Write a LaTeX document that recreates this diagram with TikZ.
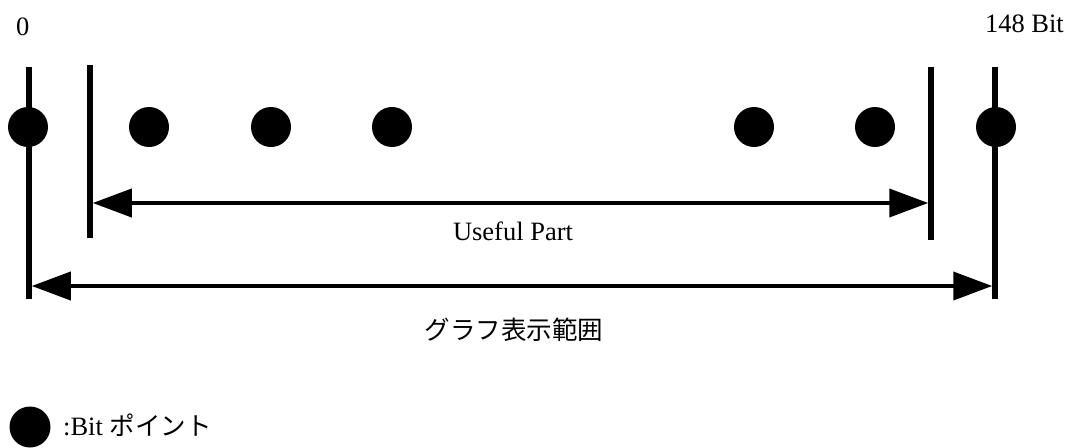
\documentclass[tikz,border=0pt]{standalone}
\usepackage{fontspec}
\setmainfont{Liberation Serif}
\newfontfamily\jpfont{Noto Sans CJK JP}
\usetikzlibrary{arrows.meta}
\tikzset{
  bar/.style={line width=5.5pt},
  dimarrow/.style={line width=4pt,{Triangle[length=39pt,width=28pt]}-{Triangle[length=39pt,width=28pt]}},
  bitdot/.style={circle,fill=black,inner sep=0pt,minimum size=40pt},
  lbl/.style={inner sep=0pt,font=\fontsize{26.5}{30}\selectfont},
  jlbl/.style={inner sep=0pt,font=\fontsize{25.5}{30}\selectfont\jpfont}
}
\begin{document}
\begin{tikzpicture}[x=1pt,y=-1pt]
\useasboundingbox (0,0) rectangle (1070,447);
% vertical bars
\coordinate (oLt) at (29,67);  \coordinate (oLb) at (29,299);
\coordinate (iLt) at (90,65);  \coordinate (iLb) at (90,238);
\coordinate (iRt) at (931,67); \coordinate (iRb) at (931,240);
\coordinate (oRt) at (995,67); \coordinate (oRb) at (995,299);
\draw[bar] (oLt) -- (oLb);
\draw[bar] (iLt) -- (iLb);
\draw[bar] (iRt) -- (iRb);
\draw[bar] (oRt) -- (oRb);
% dots
\node[bitdot] (d1) at (28,127) {};
\node[bitdot] (d2) at (149,127) {};
\node[bitdot] (d3) at (271,127) {};
\node[bitdot] (d4) at (392,127) {};
\node[bitdot] (d5) at (754,127) {};
\node[bitdot] (d6) at (875,127) {};
\node[bitdot] (d7) at (996,127) {};
% arrows
\coordinate (uA) at (92.75,203); \coordinate (uB) at (928.25,203);
\coordinate (lA) at (31.75,286); \coordinate (lB) at (992.25,286);
\draw[dimarrow] (uA) -- (uB);
\draw[dimarrow] (lA) -- (lB);
% labels
\node[lbl,anchor=base west] (zero) at (16,35) {0};
\node[lbl,anchor=base east] (end) at (1064,32) {148 Bit};
\node[lbl,anchor=base] (useful) at (513,240) {Useful Part};
\node[jlbl,anchor=center] (range) at (514,330) {グラフ表示範囲};
% legend
\node[bitdot,minimum size=41pt] (ld) at (30,427) {};
\node[lbl,anchor=base west] (ltext) at (63,435) {:Bit {\jpfont\fontsize{25.5}{30}\selectfont ポイント}};
\end{tikzpicture}
\end{document}
